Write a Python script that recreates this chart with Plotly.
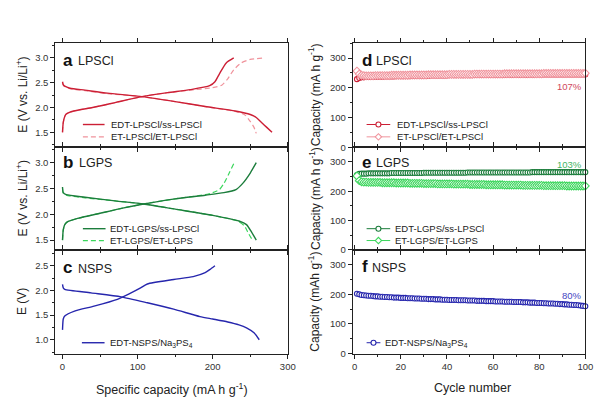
import plotly.graph_objects as go

# ---------------- data ----------------
# panel a : LPSCl voltage profiles (capacity mA h g-1, voltage V)
a_edt_chg_x = [0, 1, 3, 5, 15, 40, 70, 106, 140, 170, 196, 203, 209, 218, 228]
a_edt_chg_y = [1.5, 1.7, 1.82, 1.87, 1.93, 2.0, 2.1, 2.22, 2.3, 2.36, 2.44, 2.52, 2.68, 2.9, 3.0]
a_edt_dis_x = [0, 1, 3, 10, 30, 60, 106, 150, 190, 230, 250, 258, 265, 272, 279]
a_edt_dis_y = [2.52, 2.46, 2.43, 2.39, 2.35, 2.29, 2.22, 2.12, 2.02, 1.93, 1.86, 1.8, 1.7, 1.6, 1.5]
a_et_chg_x = [0, 1, 3, 5, 15, 40, 70, 106, 140, 170, 200, 212, 220, 228, 238, 250, 268]
a_et_chg_y = [1.5, 1.7, 1.82, 1.87, 1.93, 2.0, 2.1, 2.22, 2.3, 2.35, 2.4, 2.45, 2.58, 2.76, 2.9, 2.97, 3.0]
a_et_dis_x = [0, 1, 3, 10, 30, 60, 106, 150, 190, 230, 243, 250, 255, 258]
a_et_dis_y = [2.5, 2.45, 2.42, 2.38, 2.34, 2.28, 2.22, 2.12, 2.02, 1.92, 1.85, 1.72, 1.6, 1.48]

# panel b : LGPS
b_edt_chg_x = [0, 1, 3, 6, 20, 50, 80, 108, 150, 190, 215, 231, 240, 250, 258]
b_edt_chg_y = [1.5, 1.7, 1.8, 1.85, 1.92, 2.02, 2.12, 2.2, 2.3, 2.37, 2.42, 2.48, 2.6, 2.8, 3.0]
b_edt_dis_x = [0, 1, 5, 30, 70, 108, 150, 200, 235, 245, 252, 258]
b_edt_dis_y = [2.53, 2.42, 2.38, 2.33, 2.26, 2.2, 2.1, 1.98, 1.87, 1.8, 1.65, 1.5]
b_et_chg_x = [0, 1, 3, 6, 20, 50, 80, 108, 150, 190, 200, 209, 215, 222, 228]
b_et_chg_y = [1.5, 1.7, 1.8, 1.85, 1.92, 2.02, 2.12, 2.2, 2.3, 2.38, 2.42, 2.48, 2.6, 2.8, 2.98]
b_et_dis_x = [0, 1, 5, 30, 70, 108, 150, 200, 233, 242, 248, 253]
b_et_dis_y = [2.5, 2.41, 2.37, 2.32, 2.26, 2.2, 2.1, 1.98, 1.87, 1.78, 1.62, 1.5]

# panel c : NSPS
c_chg_x = [0, 0.5, 1, 3, 16, 42, 73, 90, 104, 113, 148, 174, 190, 196, 203]
c_chg_y = [1.2, 1.35, 1.42, 1.48, 1.58, 1.68, 1.82, 1.94, 2.05, 2.13, 2.22, 2.28, 2.36, 2.42, 2.5]
c_dis_x = [0, 1, 3, 38, 78, 113, 148, 183, 200, 220, 235, 245, 255, 262]
c_dis_y = [2.12, 2.05, 2.02, 1.95, 1.87, 1.75, 1.62, 1.47, 1.42, 1.36, 1.3, 1.24, 1.14, 1.0]

# cycling data (cycle number, capacity mA h g-1)
cycles = list(range(1, 101))
d_edt = [229, 233, 235, 235, 236, 236, 236, 237, 237, 237,
         237, 237, 238, 238, 238, 238, 238, 239, 239, 239,
         239, 239, 239, 239, 240, 240, 240, 240, 240, 240,
         240, 240, 241, 241, 241, 241, 241, 241, 241, 241,
         242, 242, 242, 242, 242, 242, 242, 242, 242, 242,
         242, 243, 243, 243, 243, 243, 243, 243, 243, 243,
         243, 243, 243, 244, 244, 244, 244, 244, 244, 244,
         244, 244, 244, 244, 244, 244, 244, 245, 245, 245,
         245, 245, 245, 245, 245, 245, 245, 245, 245, 245,
         245, 245, 245, 245, 245, 245, 245, 245, 245, 245]
d_et = [256, 246, 242, 241, 240, 240, 240, 240, 241, 241,
        241, 241, 241, 241, 241, 242, 242, 242, 242, 242,
        242, 242, 242, 243, 243, 243, 243, 243, 243, 243,
        243, 244, 244, 244, 244, 244, 244, 244, 244, 244,
        245, 245, 245, 245, 245, 245, 245, 245, 245, 245,
        245, 246, 246, 246, 246, 246, 246, 246, 246, 246,
        246, 246, 246, 246, 247, 247, 247, 247, 247, 247,
        247, 247, 247, 247, 247, 247, 247, 247, 247, 247,
        247, 248, 248, 248, 248, 248, 248, 248, 248, 248,
        248, 248, 248, 248, 248, 248, 248, 248, 248, 249]
e_edt = [255, 259, 260, 260, 260, 261, 261, 261, 261, 261,
         261, 261, 261, 261, 261, 262, 262, 262, 262, 262,
         262, 262, 262, 262, 262, 262, 262, 262, 262, 263,
         263, 263, 263, 263, 263, 263, 263, 263, 263, 263,
         263, 263, 263, 263, 263, 263, 263, 263, 264, 264,
         264, 264, 264, 264, 264, 264, 264, 264, 264, 264,
         264, 264, 264, 264, 264, 264, 264, 264, 264, 264,
         264, 264, 264, 264, 264, 264, 265, 265, 265, 265,
         265, 265, 265, 265, 265, 265, 265, 265, 265, 265,
         265, 265, 265, 265, 265, 265, 265, 265, 265, 265]
e_et = [252, 236, 232, 231, 231, 230, 230, 230, 230, 230,
        230, 229, 229, 229, 229, 229, 229, 228, 228, 228,
        228, 228, 228, 227, 227, 227, 227, 227, 227, 226,
        226, 226, 226, 226, 226, 225, 225, 225, 225, 225,
        225, 225, 224, 224, 224, 224, 224, 224, 224, 223,
        223, 223, 223, 223, 223, 223, 222, 222, 222, 222,
        222, 222, 222, 222, 221, 221, 221, 221, 221, 221,
        221, 221, 220, 220, 220, 220, 220, 220, 220, 220,
        220, 219, 219, 219, 219, 219, 219, 219, 219, 219,
        219, 218, 218, 218, 218, 218, 218, 218, 218, 218]
f_edt = [202, 200, 198, 197, 196, 195, 195, 194, 193, 193,
         192, 192, 191, 191, 190, 190, 189, 189, 189, 188,
         188, 188, 187, 187, 187, 186, 186, 186, 185, 185,
         185, 184, 184, 184, 183, 183, 183, 182, 182, 182,
         181, 181, 181, 181, 180, 180, 180, 180, 179, 179,
         179, 179, 178, 178, 178, 178, 177, 177, 177, 177,
         176, 176, 176, 176, 175, 175, 175, 175, 174, 174,
         174, 174, 173, 173, 173, 172, 172, 172, 171, 171,
         171, 170, 170, 169, 169, 169, 168, 168, 167, 167,
         166, 166, 165, 165, 164, 164, 163, 162, 161, 160]

# ---------------- styling ----------------
W, H = 605, 397
FONT = "Liberation Sans, Arial, sans-serif"
RED, PINK = "#cc1f35", "#f0939c"
DGREEN, LGREEN = "#1c7d3c", "#3bd65c"
BLUE = "#2626ad"
AX = "#222222"
DASH = "5px,3px"

def px(x):
    return x / W

def py(y):
    return 1 - y / H

fig = go.Figure()

def line(x, y, color, ax, dash="solid", width=1.4):
    fig.add_trace(go.Scatter(x=x, y=y, mode="lines", xaxis="x" + ax, yaxis="y" + ax,
                             line=dict(color=color, width=width, dash=dash, shape="spline", smoothing=0.6),
                             showlegend=False, hoverinfo="skip"))

def cyc(y, color, ax, symbol="circle", size=5):
    fig.add_trace(go.Scatter(x=cycles, y=y, mode="lines+markers", xaxis="x" + ax, yaxis="y" + ax,
                             line=dict(color=color, width=1),
                             marker=dict(symbol=symbol, size=size, color="white",
                                         line=dict(color=color, width=1.1)),
                             cliponaxis=False, showlegend=False, hoverinfo="skip"))

# left column
line(a_et_chg_x, a_et_chg_y, PINK, "1", DASH, 1.2)
line(a_et_dis_x, a_et_dis_y, PINK, "1", DASH, 1.2)
line(a_edt_chg_x, a_edt_chg_y, RED, "1")
line(a_edt_dis_x, a_edt_dis_y, RED, "1")
line(b_et_chg_x, b_et_chg_y, LGREEN, "2", DASH, 1.2)
line(b_et_dis_x, b_et_dis_y, LGREEN, "2", DASH, 1.2)
line(b_edt_chg_x, b_edt_chg_y, DGREEN, "2")
line(b_edt_dis_x, b_edt_dis_y, DGREEN, "2")
line(c_chg_x, c_chg_y, BLUE, "3")
line(c_dis_x, c_dis_y, BLUE, "3")
# right column
cyc(d_edt, RED, "4")
cyc(d_et, PINK, "4", "diamond", 6)
cyc(e_edt, DGREEN, "5")
cyc(e_et, LGREEN, "5", "diamond", 6)
cyc(f_edt, BLUE, "6")

# ---------------- axes ----------------
LX = [px(47), px(283)]
RX = [px(349), px(585)]
YD = {"a": [py(141), py(35)], "b": [py(245), py(141)], "c": [py(350), py(245)]}

tickfont = dict(family=FONT, size=9.5, color="#333")

def xax(domain, rng, dtick, minor, showlabels, anchor):
    return dict(domain=domain, range=rng, anchor=anchor, dtick=dtick, tick0=0,
                showticklabels=showlabels, ticks="outside", ticklen=4, tickwidth=1, tickcolor=AX,
                minor=dict(ticks="outside", ticklen=2, dtick=minor, tickcolor=AX),
                showline=True, linecolor=AX, linewidth=1, mirror="ticks",
                showgrid=False, zeroline=False, tickfont=tickfont)

def yax(domain, rng, dtick, minor, anchor, fmt=None):
    d = dict(domain=domain, range=rng, anchor=anchor, dtick=dtick, tick0=0,
             ticks="outside", ticklen=4, tickwidth=1, tickcolor=AX,
             minor=dict(ticks="outside", ticklen=2, dtick=minor, tickcolor=AX),
             showline=True, linecolor=AX, linewidth=1, mirror=True,
             showgrid=False, zeroline=False, tickfont=tickfont)
    if fmt:
        d["tickformat"] = fmt
    return d

fig.update_layout(
    xaxis=xax(LX, [-9.6, 300], 100, 50, False, "y"),
    yaxis=yax(YD["a"], [1.2, 3.31], 0.5, 0.25, "x", ".1f"),
    xaxis2=xax(LX, [-9.6, 300], 100, 50, False, "y2"),
    yaxis2=yax(YD["b"], [1.31, 3.3], 0.5, 0.25, "x2", ".1f"),
    xaxis3=xax(LX, [-9.6, 300], 100, 50, True, "y3"),
    yaxis3=yax(YD["c"], [0.72, 2.82], 0.5, 0.25, "x3", ".1f"),
    xaxis4=xax(RX, [-0.8, 100], 20, 10, False, "y4"),
    yaxis4=yax(YD["a"], [0, 352], 100, 50, "x4"),
    xaxis5=xax(RX, [-0.8, 100], 20, 10, False, "y5"),
    yaxis5=yax(YD["b"], [0, 350], 100, 50, "x5"),
    xaxis6=xax(RX, [-0.8, 100], 20, 10, True, "y6"),
    yaxis6=yax(YD["c"], [0, 350], 100, 50, "x6"),
)

# ---------------- annotations ----------------
ann = []

def text(x, y, s, size=10, color="#222", xanchor="left", bold=False, angle=0):
    ann.append(dict(x=px(x), y=py(y), xref="paper", yref="paper", text=("<b>%s</b>" % s) if bold else s,
                    showarrow=False, xanchor=xanchor, yanchor="middle", textangle=angle,
                    font=dict(family=FONT, size=size, color=color)))

# panel letters
for lx, ly, letter, nx, name in [(53, 53, "a", 68, "LPSCl"), (53, 156, "b", 69, "LGPS"),
                                 (53, 263, "c", 68, "NSPS"), (356, 53, "d", 371, "LPSCl"),
                                 (356, 156, "e", 371, "LGPS"), (356, 262, "f", 366, "NSPS")]:
    text(lx, ly, letter, 17, "#111", bold=True)
    text(nx, ly + 1, name, 12.5, "#222")

# percentages
text(584, 79, "107%", 9.5, "#d0485c", "right")
text(584, 158, "103%", 9.5, "#45b565", "right")
text(584, 291, "80%", 9.5, "#4545c2", "right")

# axis titles
text(13, 88, "E (V vs. Li/Li<sup>+</sup>)", 12, angle=-90, xanchor="center")
text(13, 193, "E (V vs. Li/Li<sup>+</sup>)", 12, angle=-90, xanchor="center")
text(13, 297, "E (V)", 12, angle=-90, xanchor="center")
text(310, 88, "Capacity (mA h g<sup>-1</sup>)", 12, angle=-90, xanchor="center")
text(310, 193, "Capacity (mA h g<sup>-1</sup>)", 12, angle=-90, xanchor="center")
text(310, 297, "Capacity (mAh g<sup>-1</sup>)", 12, angle=-90, xanchor="center")
text(165, 386, "Specific capacity (mA h g<sup>-1</sup>)", 12.5, xanchor="center")
text(471, 385, "Cycle number", 12.5, xanchor="center")

# legends (manual, compact)
shapes = []

def legend_entry(x0, x1, y, color, label, dash="solid", marker=None, tx=None, width=1.4):
    shapes.append(dict(type="line", xref="paper", yref="paper", x0=px(x0), x1=px(x1), y0=py(y), y1=py(y),
                       line=dict(color=color, width=width, dash=dash)))
    if marker == "circle":
        shapes.append(dict(type="circle", xref="paper", yref="paper", xsizemode="pixel", ysizemode="pixel",
                           xanchor=px((x0 + x1) / 2), yanchor=py(y), x0=-2.5, x1=2.5, y0=-2.5, y1=2.5,
                           fillcolor="white", line=dict(color=color, width=1.1)))
    elif marker == "diamond":
        shapes.append(dict(type="path", xref="paper", yref="paper", xsizemode="pixel", ysizemode="pixel",
                           xanchor=px((x0 + x1) / 2), yanchor=py(y),
                           path="M -3.2 0 L 0 3.2 L 3.2 0 L 0 -3.2 Z",
                           fillcolor="white", line=dict(color=color, width=1.1)))
    text(tx if tx is not None else x1 + 5, y, label, 9.5, "#222")

legend_entry(75, 97, 118, RED, "EDT-LPSCl/ss-LPSCl", tx=102)
legend_entry(75, 97, 130.5, PINK, "ET-LPSCl/ET-LPSCl", dash=DASH, tx=102, width=1.2)
legend_entry(75, 98, 223.5, DGREEN, "EDT-LGPS/ss-LPSCl", tx=101)
legend_entry(75, 98, 235.5, LGREEN, "ET-LGPS/ET-LGPS", dash=DASH, tx=101, width=1.2)
legend_entry(74, 97, 339, BLUE, "EDT-NSPS/Na<sub>3</sub>PS<sub>4</sub>", tx=100)
legend_entry(363, 387, 118, RED, "EDT-LPSCl/ss-LPSCl", marker="circle", tx=392, width=1)
legend_entry(363, 387, 130.5, PINK, "ET-LPSCl/ET-LPSCl", marker="diamond", tx=392, width=1)
legend_entry(363, 387, 223.5, DGREEN, "EDT-LGPS/ss-LPSCl", marker="circle", tx=390, width=1)
legend_entry(363, 387, 235.5, LGREEN, "ET-LGPS/ET-LGPS", marker="diamond", tx=390, width=1)
legend_entry(363, 377, 339, BLUE, "EDT-NSPS/Na<sub>3</sub>PS<sub>4</sub>", marker="circle", tx=380, width=1)

fig.update_layout(annotations=ann, shapes=shapes,
                  width=W, height=H, margin=dict(l=0, r=0, t=0, b=0),
                  paper_bgcolor="white", plot_bgcolor="white", showlegend=False,
                  font=dict(family=FONT, color="#222"))

fig.write_html("out.html")
